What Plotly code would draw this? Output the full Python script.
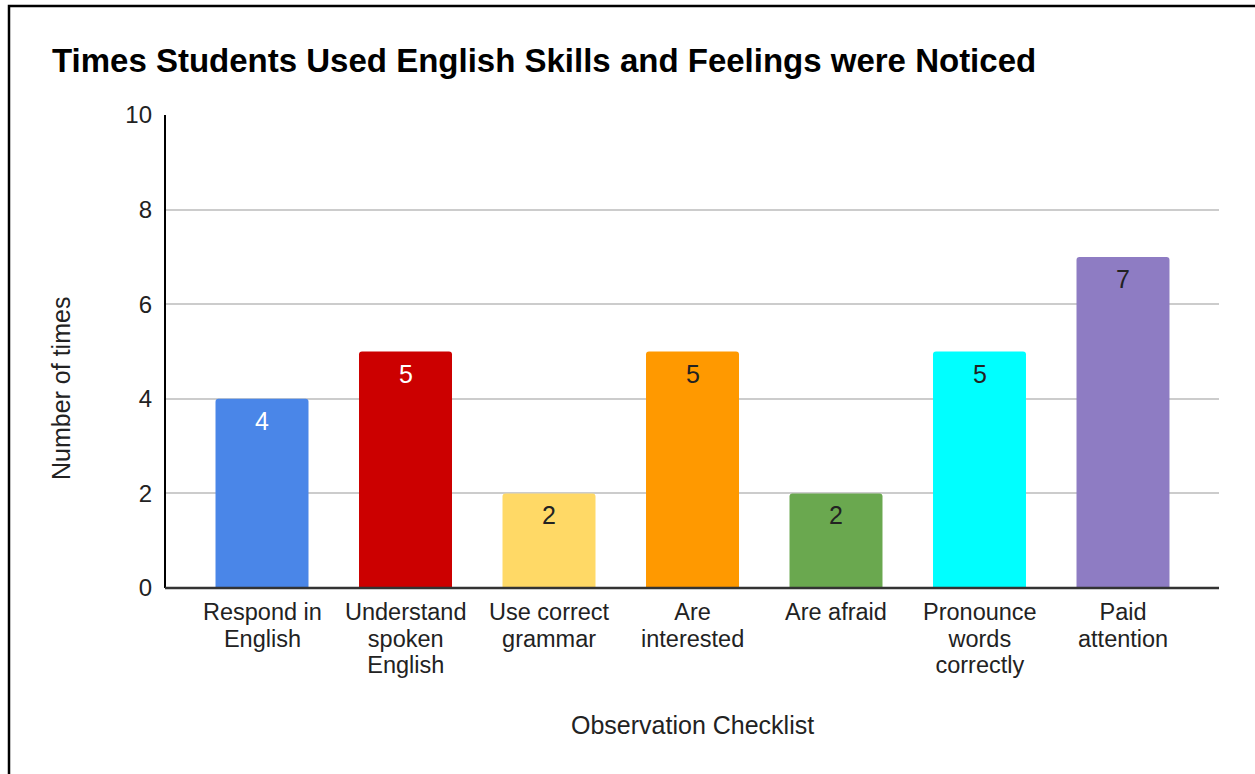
import plotly.graph_objects as go

# Observation checklist data
categories = [
    "Respond in\nEnglish",
    "Understand\nspoken\nEnglish",
    "Use correct\ngrammar",
    "Are\ninterested",
    "Are afraid",
    "Pronounce\nwords\ncorrectly",
    "Paid\nattention",
]
counts = [4, 5, 2, 5, 2, 5, 7]
bar_colors = ["#4a86e8", "#cc0000", "#ffd966", "#ff9900", "#6aa84f", "#00ffff", "#8e7cc3"]
label_colors = ["#ffffff", "#ffffff", "#222222", "#222222", "#222222", "#222222", "#222222"]
y_ticks = [0, 2, 4, 6, 8, 10]

W, H = 1255, 774
L, R, T, B = 165, 1219, 115, 588  # plot area in pixels
FONT = "Liberation Sans, Arial, sans-serif"
CAT_SIZE = 23.5     # glyph size of category labels
CAT_PITCH = 26.5    # distance between label lines, px


def px_x(p):
    return (p - L) / (R - L)


def px_y(p):
    return (B - p) / (B - T)


def tight_lines(label, size=CAT_SIZE):
    # glyphs at `size`, line pitch taken from the smaller base font of the annotation
    return "<br>".join(f'<span style="font-size:{size}px">{ln}</span>' for ln in label.split("\n"))


x_idx = list(range(len(categories)))

fig = go.Figure(
    go.Bar(
        x=x_idx,
        y=counts,
        width=0.648,
        marker=dict(color=bar_colors, line=dict(width=0), cornerradius=3),
        hoverinfo="skip",
    )
)

annotations = []
# value labels just inside the top of each bar
for i, v in enumerate(counts):
    annotations.append(dict(
        x=i, xref="x", y=v, yref="y", yshift=-22,
        text=str(v), showarrow=False, xanchor="center", yanchor="middle",
        font=dict(family=FONT, size=25, color=label_colors[i]),
    ))

# multi-line category labels below the axis
for i, cat in enumerate(categories):
    annotations.append(dict(
        x=i, xref="x", y=px_y(597), yref="paper",
        text=tight_lines(cat), showarrow=False, xanchor="center", yanchor="top",
        align="center",
        font=dict(family=FONT, size=CAT_PITCH / 1.3, color="#222222"),
    ))

# axis titles
annotations.append(dict(
    x=px_x(692), xref="paper", y=px_y(725), yref="paper",
    text="Observation Checklist", showarrow=False, xanchor="center", yanchor="middle",
    font=dict(family=FONT, size=25, color="#222222"),
))
annotations.append(dict(
    x=px_x(61), xref="paper", y=px_y(389), yref="paper",
    text="Number of times", showarrow=False, textangle=-90,
    xanchor="center", yanchor="middle",
    font=dict(family=FONT, size=25, color="#222222"),
))
# chart title
annotations.append(dict(
    x=px_x(50), xref="paper", y=px_y(60), yref="paper",
    text="<b>Times Students Used English Skills and Feelings were Noticed</b>",
    showarrow=False, xanchor="left", yanchor="middle",
    font=dict(family=FONT, size=33, color="#000000"),
))

shapes = [
    # outer frame (left and top edges)
    dict(type="path", xref="paper", yref="paper",
         path=f"M {px_x(9)},{px_y(800)} L {px_x(9)},{px_y(6)} L {px_x(1260)},{px_y(6)}",
         line=dict(color="#000000", width=2.5)),
    # axis lines
    dict(type="line", xref="paper", yref="paper", x0=0, x1=0, y0=0, y1=1,
         line=dict(color="#000000", width=2)),
    dict(type="line", xref="paper", yref="paper", x0=0, x1=1, y0=0, y1=0,
         line=dict(color="#333333", width=2.5)),
]

fig.update_layout(
    width=W, height=H,
    margin=dict(l=L, r=W - R, t=T, b=H - B, autoexpand=False),
    paper_bgcolor="#ffffff", plot_bgcolor="#ffffff",
    showlegend=False,
    annotations=annotations,
    shapes=shapes,
    xaxis=dict(
        range=[-0.676, 6.669], showticklabels=False, showgrid=False,
        zeroline=False, showline=False, ticks="",
    ),
    yaxis=dict(
        range=[0, 10], tickvals=y_ticks, ticktext=[str(v) for v in y_ticks],
        showgrid=True, gridcolor="#cccccc", gridwidth=1.5,
        zeroline=False, showline=False, ticks="",
        ticklabelstandoff=12,
        tickfont=dict(family=FONT, size=24, color="#222222"),
    ),
)

fig.write_html("out.html")
